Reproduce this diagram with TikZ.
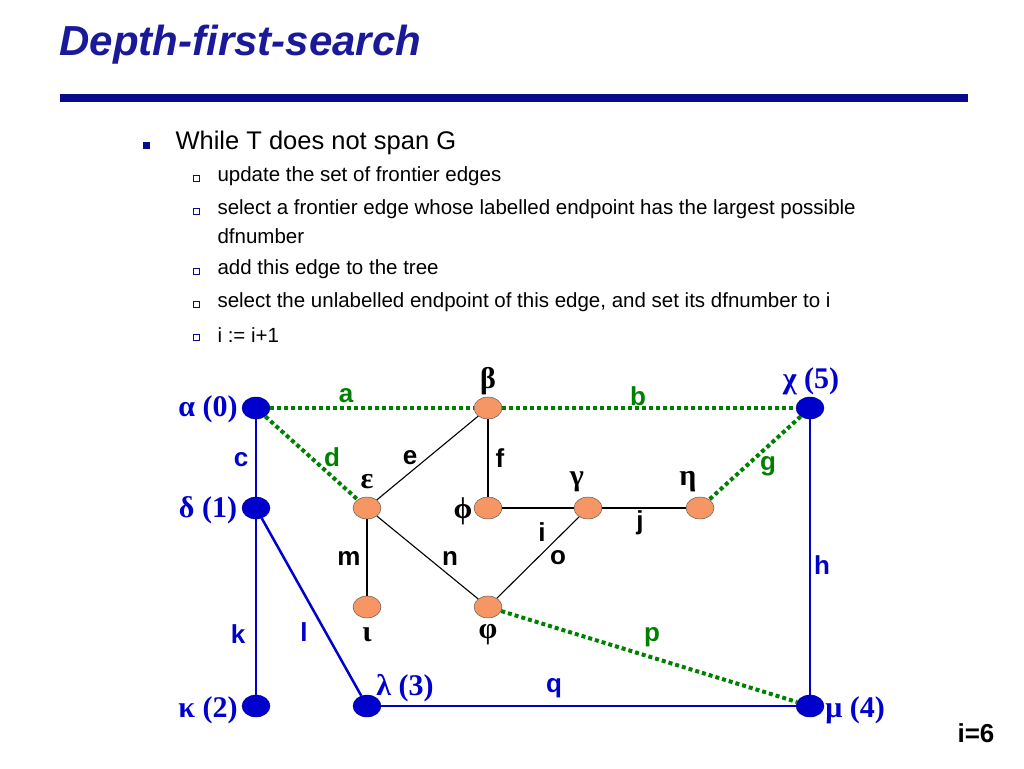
\documentclass[tikz,border=0pt]{standalone}
\usepackage{fontspec}
\usetikzlibrary{shapes.geometric}
\setmainfont{Liberation Sans}
\newfontfamily\grk{Liberation Serif}
\definecolor{nblue}{RGB}{0,0,204}
\definecolor{tblue}{RGB}{26,26,153}
\definecolor{navy}{RGB}{10,10,140}
\definecolor{ngreen}{RGB}{0,128,0}
\definecolor{orng}{RGB}{245,150,100}
\begin{document}
\begin{tikzpicture}[x=1pt,y=-1pt,
  bn/.style={ellipse,draw=nblue!60!black,fill=nblue,minimum width=28pt,minimum height=22pt,inner sep=0},
  on/.style={ellipse,draw=black!70,fill=orng,minimum width=28pt,minimum height=22pt,inner sep=0},
  tree/.style={nblue,line width=2.5pt},
  front/.style={ngreen,line width=4pt,dash pattern=on 4pt off 3pt},
  plain/.style={black,line width=1.1pt},
  gl/.style={font=\grk\bfseries\fontsize{30}{30}\selectfont},
  bgl/.style={gl,text=nblue},
  el/.style={font=\bfseries\fontsize{26}{26}\selectfont},
  sq/.style={draw=navy,line width=0.9pt,minimum size=6pt,inner sep=0},
  txt/.style={anchor=west,font=\fontsize{20.5}{24}\selectfont,align=left}]
\useasboundingbox (0,0) rectangle (1024,768);
\node[anchor=west,text=tblue,font=\bfseries\itshape\fontsize{42}{42}\selectfont] (title) at (56,45) {Depth-first-search};
\fill[navy] (60,94) rectangle (968,102);
\node[fill=navy,minimum size=7pt,inner sep=0] (b0) at (146,145) {};
\node[txt,font=\fontsize{25.5}{28}\selectfont] (t0) at (172,143) {While T does not span G};
\node[sq] (sb1) at (196,178) {};
\node[txt] (st1) at (214,176) {update the set of frontier edges};
\node[sq] (sb2) at (196,211) {};
\node[txt] (st2) at (214,209) {select a frontier edge whose labelled endpoint has the largest possible};
\node[txt] (st2b) at (214,236) {dfnumber};
\node[sq] (sb3) at (196,271) {};
\node[txt] (st3) at (214,269) {add this edge to the tree};
\node[sq] (sb4) at (196,304) {};
\node[txt] (st4) at (214,302) {select the unlabelled endpoint of this edge, and set its dfnumber to i};
\node[sq] (sb5) at (196,337) {};
\node[txt] (st5) at (214,335) {i := i+1};
% nodes
\node[bn] (al) at (256,408) {};
\node[on] (be) at (488,408) {};
\node[bn] (ch) at (810,408) {};
\node[bn] (de) at (256,508) {};
\node[on] (ep) at (367,508) {};
\node[on] (ph) at (488,508) {};
\node[on] (ga) at (588,508) {};
\node[on] (et) at (700,508) {};
\node[on] (io) at (367,607) {};
\node[on] (vp) at (488,607) {};
\node[bn] (ka) at (256,706) {};
\node[bn] (la) at (367,706) {};
\node[bn] (mu) at (810,706) {};
% edges
\draw[plain] (ep) -- (be);
\draw[plain] (be) -- (ph);
\draw[plain] (ph) -- (ga);
\draw[plain] (ga) -- (et);
\draw[plain] (ga) -- (vp);
\draw[plain] (ep) -- (io);
\draw[plain] (ep) -- (vp);
\draw[tree] (al) -- (de);
\draw[tree] (de) -- (ka);
\draw[tree] (de) -- (la);
\draw[tree] (la) -- (mu);
\draw[tree] (ch) -- (mu);
\draw[front] (al) -- (be);
\draw[front] (be) -- (ch);
\draw[front] (al) -- (ep);
\draw[front] (ch) -- (et);
\draw[front] (vp) -- (mu);
% greek labels
\node[gl] (lbe) at (488,381) {β};
\node[bgl] (lch) at (811,381) {χ (5)};
\node[bgl] (lal) at (208,409) {α (0)};
\node[bgl] (lde) at (208,510) {δ (1)};
\node[gl] (lep) at (367,482) {ε};
\node[gl] (lph) at (463,511) {ϕ};
\node[gl] (lga) at (577,482) {γ};
\node[gl] (let) at (688,482) {η};
\node[gl] (lio) at (367,635) {ι};
\node[gl] (lvp) at (488,635) {φ};
\node[bgl] (lka) at (208,710) {κ (2)};
\node[bgl] (lla) at (405,688) {λ (3)};
\node[bgl] (lmu) at (855,710) {μ (4)};
% edge labels
\node[el,text=ngreen] (ea) at (346,396) {a};
\node[el,text=ngreen] (eb) at (638,396) {b};
\node[el,text=nblue] (ec) at (241,460) {c};
\node[el,text=ngreen] (ed) at (332,457) {d};
\node[el] (ee) at (410,458) {e};
\node[el] (ef) at (500,458) {f};
\node[el,text=ngreen] (eg) at (768,466) {g};
\node[el,text=nblue] (eh) at (822,565) {h};
\node[el] (ei) at (542,532) {i};
\node[el] (ej) at (640,523) {j};
\node[el,text=nblue] (ek) at (238,634) {k};
\node[el,text=nblue] (elx) at (304,632) {l};
\node[el] (em) at (349,558) {m};
\node[el] (en) at (450,558) {n};
\node[el] (eo) at (558,558) {o};
\node[el,text=ngreen] (ep2) at (652,637) {p};
\node[el,text=nblue] (eq) at (554,688) {q};
\node[el] (iv) at (976,733) {i=6};
\end{tikzpicture}
\end{document}
